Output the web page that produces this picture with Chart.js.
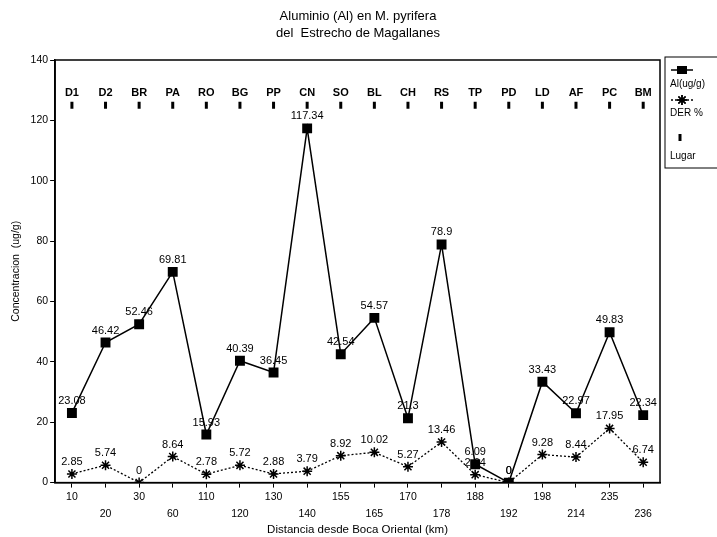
<!DOCTYPE html>
<html>
<head>
<meta charset="utf-8">
<script src="https://cdn.jsdelivr.net/npm/chart.js@4.4.0/dist/chart.umd.min.js"></script>
<style>
body { margin: 0; background: #fff; }
</style>
</head>
<body>
<canvas id="myChart" width="717" height="537"></canvas>
<script>
// distancia desde Boca Oriental (km)
const distancias = ['10', '20', '30', '60', '110', '120', '130', '140', '155', '165', '170', '178', '188', '192', '198', '214', '235', '236'];
// codigo de cada lugar
const lugares = ['D1', 'D2', 'BR', 'PA', 'RO', 'BG', 'PP', 'CN', 'SO', 'BL', 'CH', 'RS', 'TP', 'PD', 'LD', 'AF', 'PC', 'BM'];
// Al (ug/g)
const aluminio = [23.08, 46.42, 52.46, 69.81, 15.93, 40.39, 36.45, 117.34, 42.54, 54.57, 21.3, 78.9, 6.09, 0, 33.43, 22.97, 49.83, 22.34];
// DER %
const der = [2.85, 5.74, 0, 8.64, 2.78, 5.72, 2.88, 3.79, 8.92, 10.02, 5.27, 13.46, 2.64, 0, 9.28, 8.44, 17.95, 6.74];
// fila de marcas "Lugar"
const lugar_y = [125, 125, 125, 125, 125, 125, 125, 125, 125, 125, 125, 125, 125, 125, 125, 125, 125, 125];
const titulo = ['Aluminio (Al) en M. pyrifera', 'del  Estrecho de Magallanes'];

const fuente = '"Liberation Sans", Arial, sans-serif';

// titulo centrado sobre todo el canvas
const tituloPlugin = {
	id: 'tituloPlugin',
	afterDraw(chart) {
		const ctx = chart.ctx;
		ctx.save();
		ctx.fillStyle = '#000';
		ctx.font = '13px ' + fuente;
		ctx.textAlign = 'center';
		ctx.textBaseline = 'middle';
		ctx.fillText(titulo[0], 358, 16);
		ctx.fillText(titulo[1], 358, 33);
		ctx.restore();
	}
};

// marco del area y etiquetas de valores
const etiquetasPlugin = {
	id: 'etiquetasPlugin',
	afterDatasetsDraw(chart) {
		const ctx = chart.ctx;
		const a = chart.chartArea;
		ctx.save();
		ctx.strokeStyle = '#000';
		ctx.lineWidth = 1.5;
		ctx.strokeRect(a.left, a.top, a.right - a.left, a.bottom - a.top);

		ctx.fillStyle = '#000';
		ctx.textAlign = 'center';
		ctx.textBaseline = 'middle';
		chart.data.datasets.forEach((ds, i) => {
			const meta = chart.getDatasetMeta(i);
			ctx.font = (i === 2 ? 'bold 11px ' : '11px ') + fuente;
			meta.data.forEach((pt, j) => {
				const txt = i === 2 ? lugares[j] : String(ds.data[j]);
				ctx.fillText(txt, pt.x, pt.y - 12);
			});
		});
		ctx.restore();
	}
};

// leyenda en caja a la derecha (simbolo arriba, texto abajo)
const leyendaPlugin = {
	id: 'leyendaPlugin',
	afterDraw(chart) {
		const ctx = chart.ctx;
		const a = chart.chartArea;
		const x0 = a.right + 5;
		const y0 = a.top - 3;
		ctx.save();
		ctx.strokeStyle = '#000';
		ctx.fillStyle = '#000';
		ctx.lineWidth = 1;
		ctx.strokeRect(x0, y0, 60, 111);

		// Al
		ctx.lineWidth = 1.5;
		ctx.beginPath();
		ctx.moveTo(x0 + 6, y0 + 13);
		ctx.lineTo(x0 + 28, y0 + 13);
		ctx.stroke();
		ctx.fillRect(x0 + 12, y0 + 9, 10, 8);
		// DER
		ctx.setLineDash([2, 2]);
		ctx.beginPath();
		ctx.moveTo(x0 + 6, y0 + 43);
		ctx.lineTo(x0 + 28, y0 + 43);
		ctx.stroke();
		ctx.setLineDash([]);
		Chart.helpers.drawPoint(ctx, { pointStyle: 'star', radius: 5, rotation: 0, borderWidth: 1.5 }, x0 + 17, y0 + 43);
		ctx.stroke();
		// Lugar
		ctx.lineWidth = 3;
		ctx.beginPath();
		ctx.moveTo(x0 + 15, y0 + 77);
		ctx.lineTo(x0 + 15, y0 + 84);
		ctx.stroke();

		ctx.font = '10px ' + fuente;
		ctx.textAlign = 'left';
		ctx.textBaseline = 'middle';
		ctx.fillText('Al(ug/g)', x0 + 5, y0 + 27);
		ctx.fillText('DER %', x0 + 5, y0 + 56);
		ctx.fillText('Lugar', x0 + 5, y0 + 99);
		ctx.restore();
	}
};

const data = {
	labels: distancias,
	datasets: [
		{
			label: 'Al(ug/g)',
			data: aluminio,
			borderColor: '#000',
			backgroundColor: '#000',
			borderWidth: 1.5,
			pointStyle: 'rect',
			pointRadius: 7,
			pointBorderWidth: 0,
			tension: 0,
		},
		{
			label: 'DER %',
			data: der,
			borderColor: '#000',
			backgroundColor: '#000',
			borderWidth: 1.3,
			borderDash: [2, 2],
			pointStyle: 'star',
			pointRadius: 5,
			pointBorderWidth: 1.5,
			tension: 0,
		},
		{
			label: 'Lugar',
			data: lugar_y,
			borderColor: '#000',
			backgroundColor: '#000',
			showLine: false,
			pointStyle: 'line',
			pointRotation: 90,
			pointRadius: 3.5,
			pointBorderWidth: 3,
		},
	],
};

const config = {
	type: 'line',
	data: data,
	options: {
		responsive: false,
		animation: false,
		layout: {
			padding: { top: 60, right: 57, left: 10, bottom: 0 },
		},
		plugins: {
			legend: { display: false },
			title: { display: false },
			tooltip: { enabled: false },
		},
		scales: {
			x: {
				offset: true,
				grid: { offset: false, drawOnChartArea: false, tickLength: 5, color: '#000' },
				border: { color: '#000', width: 1.5 },
				ticks: {
					color: '#000',
					maxRotation: 0,
					autoSkip: false,
					padding: 1,
					font: { family: fuente, size: 10.5, lineHeight: 1.6 },
					callback: function (value, index) {
						return index % 2 === 0 ? [distancias[index], ''] : ['', distancias[index]];
					},
				},
				title: {
					display: true,
					text: 'Distancia desde Boca Oriental (km)',
					color: '#000',
					font: { family: fuente, size: 11.5 },
					padding: { top: 0, bottom: 0 },
				},
			},
			y: {
				min: 0,
				max: 140,
				grid: { drawOnChartArea: false, tickLength: 5, color: '#000' },
				border: { color: '#000', width: 1.5 },
				ticks: {
					stepSize: 20,
					color: '#000',
					padding: 2,
					font: { family: fuente, size: 10.5 },
				},
				title: {
					display: true,
					text: 'Concentracion  (ug/g)',
					color: '#000',
					font: { family: fuente, size: 10.5 },
					padding: { top: 0, bottom: 6 },
				},
			},
		},
	},
	plugins: [etiquetasPlugin, leyendaPlugin, tituloPlugin],
};

var myChart = new Chart(document.getElementById('myChart'), config);
</script>
</body>
</html>
